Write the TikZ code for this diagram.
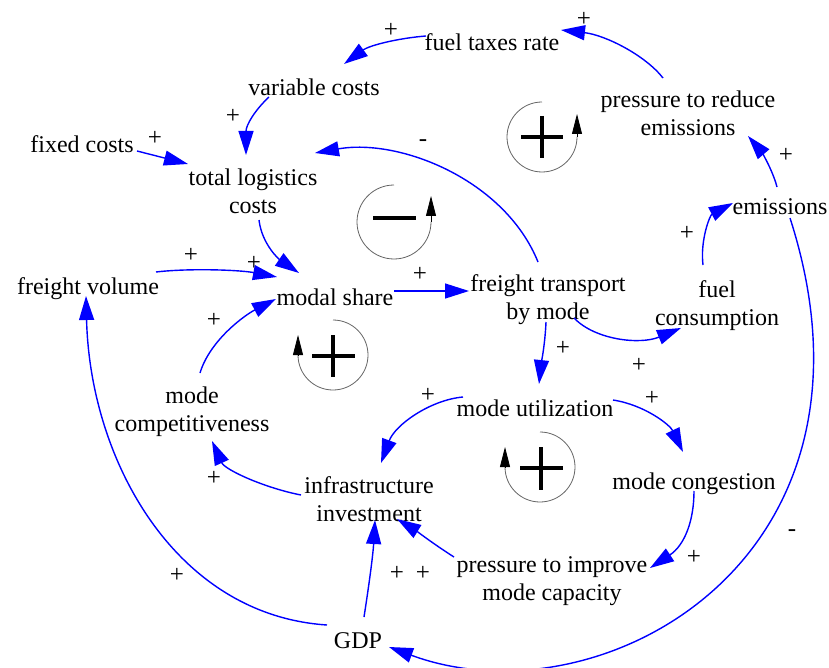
\documentclass[tikz,border=0pt]{standalone}
\usepackage{fontspec}
\setmainfont{Liberation Serif}
\usetikzlibrary{arrows.meta}
\definecolor{linkblue}{RGB}{0,0,255}
\definecolor{ringgray}{RGB}{100,100,100}
\begin{document}
\begin{tikzpicture}[x=1pt,y=-1pt,
  var/.style={inner sep=0pt, align=center, text depth=0pt, font=\fontsize{24}{28}\selectfont},
  pol/.style={inner sep=0pt, font=\fontsize{25}{26}\selectfont},
  link/.style={draw=linkblue, line width=1.4pt, -{Triangle[length=24pt,width=15pt]}},
  ring/.style={draw=ringgray, line width=0.8pt},
  ringtip/.style={draw=black, line width=0.8pt, -{Triangle[length=20pt,width=10pt]}},
  bar/.style={line width=3.6pt, black}
]
\useasboundingbox (0,0) rectangle (829,668);

% variables
\node[var] (tax)  at (492,42)  {fuel taxes rate};
\node[var] (var)  at (314,87)  {variable costs};
\node[var] (fix)  at (82,144)  {fixed costs};
\node[var] (tot)  at (253,191) {total logistics\\costs};
\node[var] (pre)  at (688,113) {pressure to reduce\\emissions};
\node[var] (emi)  at (780,207) {emissions};
\node[var] (fvol) at (88,286)  {freight volume};
\node[var] (ms)   at (335,297) {modal share};
\node[var] (ftm)  at (548,297) {freight transport\\by mode};
\node[var] (fc)   at (717,303) {fuel\\consumption};
\node[var] (mu)   at (535,408) {mode utilization};
\node[var] (mc)   at (192,409) {mode\\competitiveness};
\node[var] (inf)  at (369,499) {infrastructure\\investment};
\node[var] (cong) at (694,481) {mode congestion};
\node[var] (pic)  at (552,579) {pressure to improve\\mode capacity};
\node[var] (gdp)  at (358,641) {GDP};

% causal links
\draw[link] ([shift={(-25,-35)}]pre.center) .. controls (645,55) and (605,35) .. ([shift={(69,-12)}]tax.center);
\draw[link] ([shift={(-66,-6)}]tax.center) .. controls (400,38) and (370,45) .. ([shift={(30,-23)}]var.center);
\draw[link] ([shift={(-45,10)}]var.center) .. controls (255,110) and (246,125) .. ([shift={(-7,-36)}]tot.center);
\draw[link] ([shift={(55,7)}]fix.center) -- ([shift={(-65,-27)}]tot.center);
\draw[link] ([shift={(-10,-35)}]ftm.center) .. controls (505,180) and (400,138) .. ([shift={(62,-38)}]tot.center);
\draw[link] ([shift={(6,29)}]tot.center) .. controls (262,245) and (280,260) .. ([shift={(-36,-24)}]ms.center);
\draw[link] ([shift={(68,-14)}]fvol.center) .. controls (190,268) and (240,270) .. ([shift={(-58,-20)}]ms.center);
\draw[link] ([shift={(8,-36)}]mc.center) .. controls (210,340) and (245,315) .. ([shift={(-59,2)}]ms.center);
\draw[link] ([shift={(59,-6)}]ms.center) -- ([shift={(-79,-6)}]ftm.center);
\draw[link] ([shift={(26,21)}]ftm.center) .. controls (595,340) and (640,345) .. ([shift={(-36,25)}]fc.center);
\draw[link] ([shift={(-14,-38)}]fc.center) .. controls (700,240) and (710,215) .. ([shift={(-47,-4)}]emi.center);
\draw[link] ([shift={(-3,-20)}]emi.center) .. controls (772,168) and (760,150) .. ([shift={(60,23)}]pre.center);
\draw[link] ([shift={(-2,25)}]ftm.center) .. controls (545,345) and (541,365) .. ([shift={(4,-24)}]mu.center);
\draw[link] ([shift={(-72,-11)}]mu.center) .. controls (430,400) and (395,425) .. ([shift={(12,-36)}]inf.center);
\draw[link] ([shift={(78,-8)}]mu.center) .. controls (645,405) and (670,425) .. ([shift={(-11,-29)}]cong.center);
\draw[link] ([shift={(0,10)}]cong.center) .. controls (694,520) and (685,545) .. ([shift={(98,-11)}]pic.center);
\draw[link] ([shift={(-98,-22)}]pic.center) .. controls (435,545) and (415,530) .. ([shift={(28,20)}]inf.center);
\draw[link] ([shift={(6,-24)}]gdp.center) .. controls (369,585) and (373,555) .. ([shift={(6,21)}]inf.center);
\draw[link] ([shift={(-68,-4)}]inf.center) .. controls (265,488) and (225,470) .. ([shift={(20,32)}]mc.center);
\draw[link] ([shift={(-31,-16)}]gdp.center) .. controls (175,615) and (90,460) .. ([shift={(-2,10)}]fvol.center);
\draw[link] ([shift={(10,11)}]emi.center) .. controls (900,560) and (600,725) .. ([shift={(31,6)}]gdp.center);

% link polarities
\node[pol] (p1)  at (584,19)  {+};
\node[pol] (p2)  at (391,30)  {+};
\node[pol] (p3)  at (233,116) {+};
\node[pol] (p4)  at (155,138) {+};
\node[pol] (p5)  at (423,143) {-};
\node[pol] (p6)  at (786,155) {+};
\node[pol] (p7)  at (687,233) {+};
\node[pol] (p8)  at (191,255) {+};
\node[pol] (p9)  at (254,263) {+};
\node[pol] (p10) at (214,320) {+};
\node[pol] (p11) at (420,274) {+};
\node[pol] (p12) at (563,348) {+};
\node[pol] (p13) at (639,365) {+};
\node[pol] (p14) at (652,398) {+};
\node[pol] (p15) at (428,395) {+};
\node[pol] (p16) at (214,478) {+};
\node[pol] (p17) at (397,573) {+};
\node[pol] (p18) at (423,573) {+};
\node[pol] (p19) at (694,557) {+};
\node[pol] (p20) at (177,575) {+};
\node[pol] (p21) at (792,533) {-};

% loop markers
% balancing loop: costs
\draw[ring] (394,185) arc[start angle=-90, end angle=-360, radius=37];
\draw[ringtip] (431,222) -- ++(0,-26);
\draw[bar] (373,218) -- (416,218);
% reinforcing loop: emissions and taxes
\draw[ring] (542,102) arc[start angle=-90, end angle=-360, radius=35];
\draw[ringtip] (577,137) -- ++(0,-23);
\draw[bar] (521,137) -- (563,137);
\draw[bar] (542,116) -- (542,158);
% reinforcing loop: modal share
\draw[ring] (333,320) arc[start angle=-90, end angle=180, radius=35];
\draw[ringtip] (298,355) -- ++(0,-20);
\draw[bar] (312,356) -- (355,356);
\draw[bar] (333,335) -- (333,377);
% reinforcing loop: capacity
\draw[ring] (540,432) arc[start angle=-90, end angle=180, radius=35];
\draw[ringtip] (505,467) -- ++(0,-20);
\draw[bar] (520,468) -- (563,468);
\draw[bar] (541,447) -- (541,490);
\end{tikzpicture}
\end{document}
